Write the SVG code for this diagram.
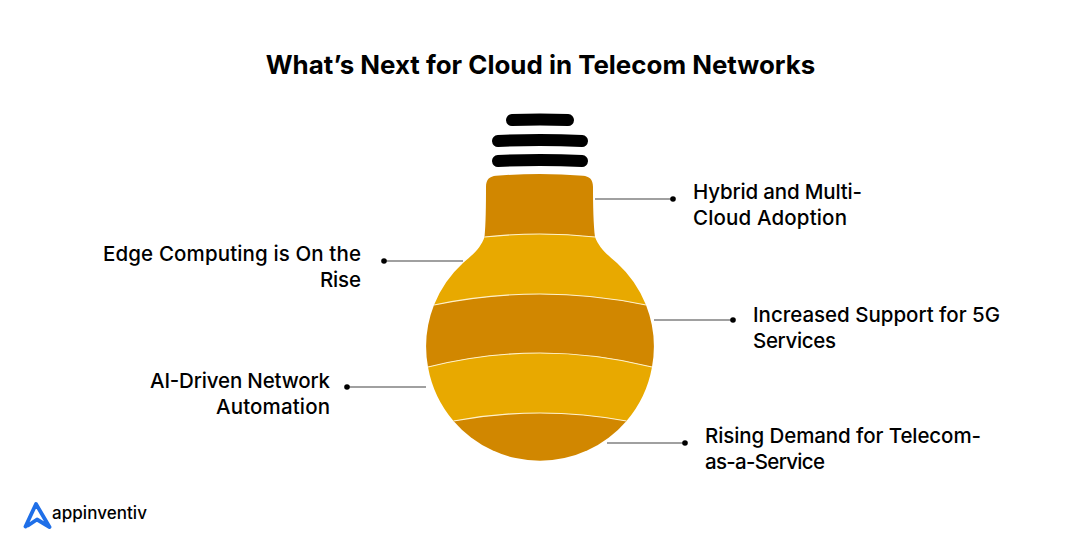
<svg xmlns="http://www.w3.org/2000/svg" width="1080" height="553" viewBox="0 0 1080 553">
<style>
text{font-family:"Inter","Liberation Sans",sans-serif;fill:#000}
.t{font-size:25.900px;font-weight:700}
.l{font-size:20.500px;font-weight:500}
.e{text-anchor:end}
.d{fill:#d18700}
.y{fill:#e8a900}
.s{fill:none;stroke:#fff1c8;stroke-width:1.2}
.c{stroke:#808080;stroke-width:1.5;fill:none}
.o{fill:#000}
.b{stroke:#000;stroke-width:12;stroke-linecap:round;fill:none}
</style>
<rect width="1080" height="553" fill="#fff"/>
<text id="title" class="t" x="540.500" y="74" text-anchor="middle">What’s Next for Cloud in Telecom Networks</text>
<g id="bulb-cap">
<path class="b" d="M512 120Q540 119 568 120"/>
<path class="b" d="M498 141Q540 139 582 141"/>
<path class="b" d="M498 161Q540 159 582 161"/>
</g>
<g id="node-hybrid">
<path class="d" d="M484.500 237C485.800 225 486 205 486 187C486 179 490 176.300 496 175.700Q540 172.500 583 175.700C589 176.300 593 179 593 187C593 205 593.500 225 595 237Q540 231 484.500 237Z"/>
<text class="l" x="693" y="199" textLength="169">Hybrid and Multi-</text>
<text class="l" x="693" y="225" textLength="154">Cloud Adoption</text>
</g>
<g id="node-edge">
<path class="y" d="M484.500 237Q540 231 595 237C599 247 605 253 617 263A114 114 0 0 1 646 305Q540 283 434 305A114 114 0 0 1 463 263C475 253 481 247 484.500 237Z"/>
<text class="l e" x="361" y="261" textLength="258">Edge Computing is On the</text>
<text class="l e" x="361" y="287" textLength="41">Rise</text>
</g>
<g id="node-5g">
<path class="d" d="M434 305Q540 283 646 305A114 114 0 0 1 652 367Q540 339 428 367A114 114 0 0 1 434 305Z"/>
<text class="l" x="753" y="322" textLength="247">Increased Support for 5G</text>
<text class="l" x="753" y="348" textLength="83">Services</text>
</g>
<g id="node-ai">
<path class="y" d="M428 367Q540 339 652 367A114 114 0 0 1 626.500 421Q540 405 453.500 421A114 114 0 0 1 428 367Z"/>
<text class="l e" x="330" y="388" textLength="180">AI-Driven Network</text>
<text class="l e" x="330" y="414" textLength="114">Automation</text>
</g>
<g id="node-rising">
<path class="d" d="M453.500 421Q540 405 626.500 421A114 114 0 0 1 453.500 421Z"/>
<text class="l" x="705" y="443" textLength="276">Rising Demand for Telecom-</text>
<text class="l" x="705" y="469" textLength="120">as-a-Service</text>
</g>
<g id="separators">
<path class="s" d="M484.500 237Q540 231 595 237"/>
<path class="s" d="M434 305Q540 283 646 305"/>
<path class="s" d="M428 367Q540 339 652 367"/>
<path class="s" d="M453.500 421Q540 405 626.500 421"/>
</g>
<g id="connectors">
<path class="c" d="M595 199H673"/><circle class="o" cx="673" cy="199" r="2.800"/>
<path class="c" d="M384 261H463"/><circle class="o" cx="384" cy="261" r="2.800"/>
<path class="c" d="M654 320H733"/><circle class="o" cx="733" cy="320" r="2.800"/>
<path class="c" d="M347 387H426"/><circle class="o" cx="347" cy="387" r="2.800"/>
<path class="c" d="M607 443H685"/><circle class="o" cx="685" cy="443" r="2.800"/>
</g>
<g id="logo">
<path d="M25.500 526.500L36 504L49.500 527L37 519.500L28 525.500" fill="none" stroke="#1f6fe8" stroke-width="3.800" stroke-linejoin="round" stroke-linecap="round"/>
<text x="52" y="519" font-size="17" font-weight="500" textLength="95">appinventiv</text>
</g>
</svg>
